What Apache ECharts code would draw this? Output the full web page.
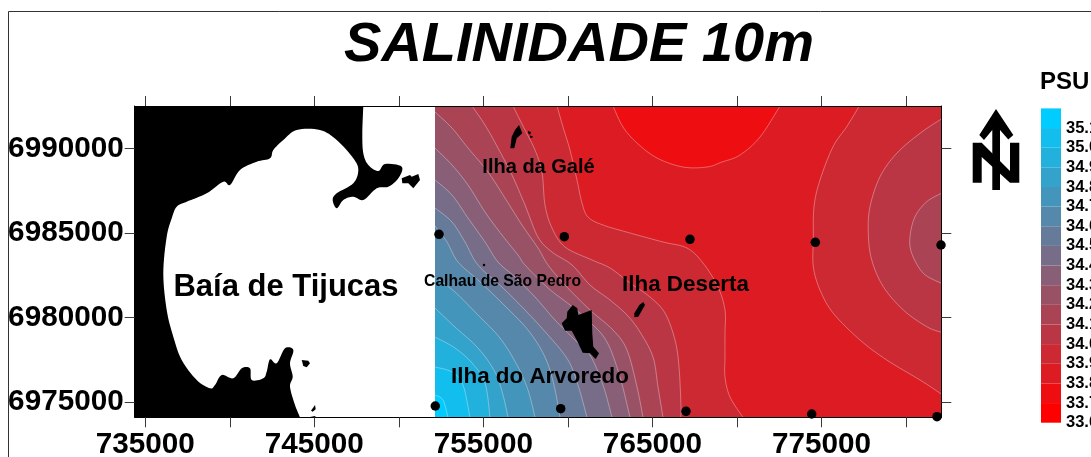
<!DOCTYPE html>
<html>
<head>
<meta charset="utf-8">
<style>html,body{margin:0;padding:0;background:#fff;overflow:hidden}#c{width:1091px;height:457px}</style>
<script src="https://cdn.jsdelivr.net/npm/echarts@6/dist/echarts.min.js"></script>
</head>
<body>
<div id="c"></div>
<script>
// Axis ranges and ticks (UTM metres)
const eastMin = 734373, eastMax = 782091, northMin = 6974093, northMax = 6992529;
const surveyWest = 752139;
const eastTicks = [735000,740000,745000,750000,755000,760000,765000,770000,775000,780000];
const eastLabels = [735000,745000,755000,765000,775000];
const northTicks = [6975000,6980000,6985000,6990000];

// Salinity scale
const legendLevels = [33.6,33.7,33.8,33.9,34.0,34.1,34.2,34.3,34.4,34.5,34.6,34.7,34.8,34.9,35.0,35.1];
const bandColors = ['#ff0000','#ee0e11','#dd1b22','#cc2933','#bb3644','#aa4455','#995166','#885f77','#776d88','#667a99','#5588aa','#4495bb','#33a3cc','#22b0dd','#11beee','#00ccff'];

// Stations
const stations = [[752375,6984931],[759788,6984788],[767224,6984635],[774637,6984457],[782074,6984297],
  [752156,6974763],[759575,6974603],[766988,6974449],[774424,6974289],[781837,6974129]];

// Contour lines
const c338 = [[762669,6992529],[763261,6991285],[764089,6990338],[765272,6989449],[766810,6988916],[768230,6988916],[769118,6989212],[770182,6989627],[771366,6990693],[772549,6992529]];
const c339W = [[759356,6992529],[759711,6991285],[760125,6989923],[760539,6988146],[760835,6986784],[761190,6985955],[762077,6985481],[763675,6985008],[765627,6984475],[767047,6984119],[767993,6983231],[768881,6981810],[769295,6980448],[769295,6979086],[769295,6977664],[769295,6976480],[769591,6975296],[770360,6974093]];
const c339E = [[777240,6992529],[776495,6991303],[775684,6990119],[774915,6988146],[774560,6986565],[774519,6984593],[774519,6983012],[774915,6981632],[775702,6980252],[777282,6978671],[778861,6977487],[780831,6976302],[782091,6975473]];
const c340E = [[782091,6991759],[780831,6990912],[779453,6989728],[778465,6988342],[777873,6986565],[777773,6984990],[777974,6983409],[778660,6981828],[779843,6980448],[781228,6979459],[782091,6979127]];
const c341E = [[782091,6987359],[781228,6986861],[780535,6985973],[780240,6984788],[780340,6983806],[781026,6982621],[782091,6982029]];
const c340W = [[756753,6992529],[757463,6991107],[758055,6989923],[758469,6988620],[758646,6986666],[759060,6985304],[759829,6984179],[761427,6983409],[762492,6982935],[763675,6982047],[764858,6981218],[765745,6980270],[766337,6978671],[766574,6977072],[766692,6974703],[766662,6974093]];
const c341W = [[754328,6992529],[755097,6991403],[755866,6990041],[756694,6988442],[757463,6986666],[758232,6984771],[759060,6983883],[760244,6983113],[761308,6981928],[762492,6981040],[763497,6980152],[764266,6979145],[765035,6977664],[765331,6975888],[765627,6974093]];
const c342 = [[752139,6992173],[753144,6991226],[754091,6990041],[755274,6988620],[756280,6987080],[757286,6985481],[758232,6984119],[758824,6983113],[759829,6981928],[761308,6980448],[762669,6979263],[763497,6978079],[764089,6975888],[764444,6974093]];
const c343 = [[752139,6990041],[753144,6989035],[754091,6987850],[755097,6986251],[756102,6984889],[757049,6983705],[757463,6983113],[758824,6981751],[760125,6980744],[761308,6979737],[762314,6978553],[763083,6976480],[763675,6974093]];
const c344 = [[752139,6988146],[753144,6987258],[754091,6985896],[755097,6984475],[755866,6983290],[756871,6982402],[758055,6981218],[759238,6979856],[760421,6978671],[761308,6977783],[762077,6976006],[762610,6974093]];
const c345 = [[752139,6986488],[753144,6985659],[753913,6984475],[754682,6983113],[756102,6981810],[757463,6980448],[758824,6978967],[760007,6977487],[760598,6976006],[761131,6974093]];
const c346 = [[752139,6985422],[752849,6984475],[753499,6983290],[754682,6982224],[756102,6980862],[757640,6979263],[758646,6977664],[759179,6976006],[759534,6974093]];
const c347 = [[752139,6982402],[753322,6981514],[754682,6980152],[755984,6978790],[756990,6977191],[757640,6975710],[758055,6974093]];
const c348 = [[752139,6980566],[753322,6979441],[754682,6978197],[755688,6976776],[756161,6975414],[756457,6974093]];
const c349 = [[752139,6978849],[753322,6978197],[754328,6977309],[755097,6976125],[755392,6974093]];
const c350 = [[752139,6977072],[753144,6976776],[753795,6976006],[754209,6974093]];
const c351 = [[752139,6975414],[752612,6975118],[752908,6974093]];

// Land
const mainlandCoast = [[747897,6992529],[747838,6990912],[747897,6989728],[748193,6989035],[748784,6988679],[749181,6989094],[750168,6988934],[749968,6988247],[749376,6987750],[748689,6987655],[747897,6986962],[747305,6987158],[746714,6986962],[746323,6986470],[746086,6986962],[746323,6987359],[747305,6987951],[747601,6988739],[747305,6989431],[746323,6990515],[745335,6991107],[743957,6991107],[743164,6990515],[742572,6989923],[742377,6989431],[741590,6989230],[740602,6988739],[740011,6987850],[739614,6988046],[738632,6987359],[737449,6986861],[736858,6986565],[736562,6985878],[736266,6984788],[736065,6982621],[736266,6980448],[736656,6978867],[737153,6977487],[738041,6976302],[738828,6975811],[739123,6976006],[739520,6976598],[740206,6976403],[740703,6976995],[741194,6976995],[741295,6976302],[741981,6976403],[742182,6976794],[742377,6977528],[742774,6977291],[743265,6978180],[743756,6978079],[743560,6977291],[743720,6976498],[743560,6975906],[743856,6974822],[744152,6974093]];
const islandTip = [[750168,6988247],[750660,6988442],[750760,6988342],[751151,6988502],[751251,6988146],[750855,6987655],[750559,6987951],[750204,6987951]];
const isletSouthA = [[744253,6977487],[744643,6977446],[744744,6977291],[744548,6977054],[744347,6977131]];
const isletSouthB = [[744803,6974484],[745039,6974822],[745081,6974567],[744903,6974425]];
const isletSouthC = [[744744,6974110],[745039,6974170],[745098,6974093]];
const ilhaGale = [[757108,6991403],[757268,6991007],[757303,6990912],[756972,6990616],[756830,6990024],[756593,6990024],[756676,6990711],[756871,6991107]];
const galeRockA = [[757640,6991048],[757818,6990989],[757759,6990811],[757640,6990930]];
const galeRockB = [[757759,6990782],[757936,6990722],[757877,6990634],[757759,6990663]];
const ilhaArvoredo = [[760285,6980744],[760557,6980548],[760616,6980152],[761409,6980448],[761444,6979068],[761504,6978275],[761841,6977884],[761646,6977546],[761308,6977884],[760877,6977919],[760521,6978671],[760226,6979222],[759829,6979222],[759634,6979660],[759930,6979956],[759965,6980347]];
const ilhaDeserta = [[764462,6980922],[764562,6980744],[764166,6980051],[763929,6980015],[763929,6980252],[764225,6980744]];
const calhau = [[755037,6983113]];

// Place names
const placeNames = ['Baía de Tijucas','Ilha da Galé','Calhau de São Pedro','Ilha Deserta','Ilha do Arvoredo'];
const placeEast = [743324,758262,756132,766958,758350];
const placeNorth = [6981810,6988916,6982106,6981928,6976480];
const placeFont = [31,20,15.7,22.4,22.4];

const SW = [surveyWest,northMin], NW = [surveyWest,northMax], NE = [eastMax,northMax], SE = [eastMax,northMin];
const contourBands = [
  {line:[SW,NW,NE,SE], close:[], color:2, plain:true},
  {line:c338, close:[], color:1},
  {line:c339E, close:[NE], color:3},
  {line:c340E, close:[], color:4},
  {line:c341E, close:[], color:5},
  {line:c339W, close:[SW,NW], color:3},
  {line:c340W, close:[SW,NW], color:4},
  {line:c341W, close:[SW,NW], color:5},
  {line:c342, close:[SW], color:6},
  {line:c343, close:[SW], color:7},
  {line:c344, close:[SW], color:8},
  {line:c345, close:[SW], color:9},
  {line:c346, close:[SW], color:10},
  {line:c347, close:[SW], color:11},
  {line:c348, close:[SW], color:12},
  {line:c349, close:[SW], color:13},
  {line:c350, close:[SW], color:14},
  {line:c351, close:[SW], color:15}
];
const landShapes = [
  {line:mainlandCoast, close:[[eastMin,northMin],[eastMin,northMax]], smooth:true},
  {line:islandTip},{line:isletSouthA},{line:isletSouthB},{line:isletSouthC},
  {line:ilhaGale},{line:galeRockA},{line:galeRockB},{line:ilhaArvoredo},{line:ilhaDeserta}
];

function spline(p){
  const out=[];
  for(let i=0;i<p.length-1;i++){
    const a=p[Math.max(i-1,0)],b=p[i],c=p[i+1],d=p[Math.min(i+2,p.length-1)];
    for(let k=0;k<8;k++){
      const t=k/8,t2=t*t,t3=t2*t;
      out.push([
        .5*(2*b[0]+(c[0]-a[0])*t+(2*a[0]-5*b[0]+4*c[0]-d[0])*t2+(3*b[0]-a[0]-3*c[0]+d[0])*t3),
        .5*(2*b[1]+(c[1]-a[1])*t+(2*a[1]-5*b[1]+4*c[1]-d[1])*t2+(3*b[1]-a[1]-3*c[1]+d[1])*t3)
      ]);
    }
  }
  out.push(p[p.length-1]);
  return out;
}

const bold='"Liberation Sans", Arial, sans-serif';
const tickStyle={length:10,lineStyle:{color:'#3a3a3a',width:1}};
const lineStyle={lineStyle:{color:'#000',width:1}};
const chart=echarts.init(document.getElementById('c'),null,{renderer:'canvas'});
chart.setOption({
  animation:false,
  backgroundColor:'#fff',
  title:[
    {text:'SALINIDADE 10m',left:574,top:13,textAlign:'center',textStyle:{fontFamily:bold,fontSize:56,fontWeight:'bold',fontStyle:'italic',color:'#000'}},
    {text:'PSU',left:1035,top:65,textStyle:{fontFamily:bold,fontSize:24,fontWeight:'bold',color:'#000'}}
  ],
  grid:[
    {left:134.7,top:106,width:806.6,height:311.3,outerBoundsMode:'none'},
    {left:1041,top:108.4,width:20,height:314.3,outerBoundsMode:'none'}
  ],
  xAxis:[
    {type:'value',gridIndex:0,position:'bottom',min:eastMin,max:eastMax,z:10,splitLine:{show:false},axisLine:lineStyle,
     axisTick:{...tickStyle,customValues:eastTicks},
     axisLabel:{customValues:eastLabels,margin:13,formatter:v=>String(v),fontFamily:bold,fontSize:29.7,fontWeight:'bold',color:'#000'}},
    {type:'value',gridIndex:0,position:'top',min:eastMin,max:eastMax,z:10,splitLine:{show:false},axisLine:lineStyle,
     axisTick:{...tickStyle,customValues:eastTicks},axisLabel:{show:false}},
    {type:'value',gridIndex:1,min:0,max:1,show:false}
  ],
  yAxis:[
    {type:'value',gridIndex:0,position:'left',min:northMin,max:northMax,z:10,splitLine:{show:false},axisLine:lineStyle,
     axisTick:{...tickStyle,customValues:northTicks},
     axisLabel:{customValues:northTicks,margin:11,formatter:v=>String(v),fontFamily:bold,fontSize:29.7,fontWeight:'bold',color:'#000'}},
    {type:'value',gridIndex:0,position:'right',min:northMin,max:northMax,z:10,splitLine:{show:false},axisLine:lineStyle,
     axisTick:{...tickStyle,customValues:northTicks},axisLabel:{show:false}},
    {type:'value',gridIndex:1,position:'right',min:33.6,max:35.2,splitLine:{show:false},axisLine:{show:false},axisTick:{show:false},
     axisLabel:{customValues:legendLevels,margin:5,formatter:v=>v.toFixed(1),fontFamily:bold,fontSize:16.5,fontWeight:'bold',color:'#000'}}
  ],
  series:[
    {type:'custom',name:'Salinidade',coordinateSystem:'cartesian2d',xAxisIndex:0,yAxisIndex:0,z:2,silent:true,clip:false,
     data:contourBands.map(b=>[b.line[0][0],b.line[0][1],legendLevels[b.color]]),
     renderItem(params,api){
       const b=contourBands[params.dataIndex];
       const raw=b.line.map(p=>api.coord(p));
       const line=b.plain?raw:spline(raw);
       const children=[{type:'polygon',shape:{points:line.concat(b.close.map(p=>api.coord(p)))},style:{fill:bandColors[b.color],stroke:null}}];
       if(!b.plain)children.push({type:'polyline',shape:{points:line},style:{fill:null,stroke:'rgba(255,255,255,0.42)',lineWidth:0.8}});
       return {type:'group',children};
     }},
    {type:'custom',name:'Terra',coordinateSystem:'cartesian2d',xAxisIndex:0,yAxisIndex:0,z:3,silent:true,clip:false,
     data:landShapes.map(s=>[s.line[0][0],s.line[0][1]]),
     renderItem(params,api){
       const s=landShapes[params.dataIndex];
       const raw=s.line.map(p=>api.coord(p));
       const pts=(s.smooth?spline(raw):raw).concat((s.close||[]).map(p=>api.coord(p)));
       return {type:'polygon',shape:{points:pts},style:{fill:'#000',stroke:null}};
     }},
    {type:'scatter',name:'Calhau',xAxisIndex:0,yAxisIndex:0,z:4,symbolSize:2.5,clip:false,silent:true,itemStyle:{color:'#000',opacity:1},data:calhau},
    {type:'scatter',name:'Estações',xAxisIndex:0,yAxisIndex:0,z:4,symbolSize:9.5,clip:false,silent:true,itemStyle:{color:'#000',opacity:1},data:stations},
    {type:'scatter',name:'Locais',xAxisIndex:0,yAxisIndex:0,z:5,symbolSize:0,clip:false,silent:true,itemStyle:{opacity:1},
     data:placeNames.map((n,i)=>({name:n,value:[placeEast[i],placeNorth[i]],
       label:{show:true,position:'inside',align:'center',verticalAlign:'middle',formatter:n,fontFamily:bold,fontSize:placeFont[i],fontWeight:'bold',color:'#000'}}))},
    {type:'custom',name:'Escala',coordinateSystem:'cartesian2d',xAxisIndex:2,yAxisIndex:2,z:2,silent:true,clip:false,
     data:legendLevels.map(v=>[0,v]),
     renderItem(params,api){
       const i=params.dataIndex;
       const a=api.coord([0,legendLevels[i]]);
       const b=api.coord([1,i<legendLevels.length-1?legendLevels[i+1]:35.2]);
       return {type:'rect',shape:{x:a[0],y:b[1],width:b[0]-a[0],height:a[1]-b[1]},style:{fill:bandColors[i],stroke:null}};
     }}
  ],
  graphic:[
    {type:'polyline',silent:true,shape:{points:[[8.5,457],[8.5,11.5],[1091,11.5]]},style:{fill:null,stroke:'#333',lineWidth:1}},
    {type:'polygon',silent:true,shape:{points:[[996,109],[979.3,135],[984,140],[992.3,130],[992.3,190],[1000,190],[1000,130],[1008.3,139.5],[1013.3,135]]},style:{fill:'#000'}},
    {type:'polygon',silent:true,shape:{points:[[972.7,142.7],[981.7,142.7],[1010,171],[1010,142.7],[1019.3,142.7],[1019.3,182.7],[1010,182.7],[981.7,157],[981.7,182.7],[972.7,182.7]]},style:{fill:'#000'}}
  ]
});
</script>
</body>
</html>
